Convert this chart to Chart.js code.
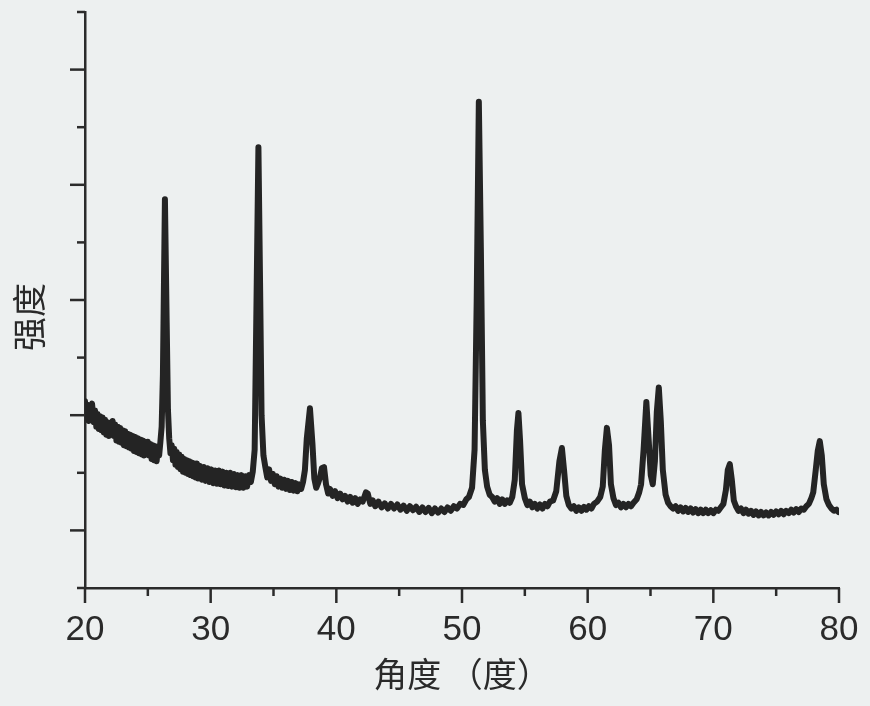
<!DOCTYPE html>
<html>
<head>
<meta charset="utf-8">
<script src="https://cdn.jsdelivr.net/npm/chart.js@4"></script>
<style>
  html, body { margin: 0; padding: 0; background: #edf0f0; }
  canvas { display: block; }
</style>
</head>
<body>
<canvas id="xrdChart" width="870" height="706"></canvas>
<script>
/* XRD pattern — angle (2θ) vs intensity */

/* 2θ positions (degrees) */
var angles = [
  20.0, 20.1, 20.2, 20.3, 20.45, 20.56, 20.7, 20.8, 20.9, 21.0,
  21.1, 21.2, 21.3, 21.4, 21.5, 21.6, 21.7, 21.8, 21.9, 22.0,
  22.1, 22.2, 22.3, 22.4, 22.5, 22.6, 22.7, 22.8, 22.9, 23.0,
  23.1, 23.2, 23.3, 23.4, 23.5, 23.6, 23.7, 23.8, 23.9, 24.0,
  24.1, 24.2, 24.3, 24.4, 24.5, 24.6, 24.7, 24.8, 24.9, 25.0,
  25.1, 25.2, 25.3, 25.4, 25.5, 25.6, 25.7, 25.8, 25.9, 26.0,
  26.1, 26.2, 26.36, 26.5, 26.6, 26.7, 26.8, 26.9, 27.0, 27.1,
  27.2, 27.3, 27.4, 27.5, 27.6, 27.7, 27.8, 27.9, 28.0, 28.1,
  28.2, 28.3, 28.4, 28.5, 28.6, 28.7, 28.8, 28.9, 29.0, 29.15,
  29.3, 29.45, 29.6, 29.75, 29.9, 30.05, 30.2, 30.35, 30.5, 30.65,
  30.8, 30.95, 31.1, 31.25, 31.4, 31.55, 31.7, 31.85, 32.0, 32.15,
  32.3, 32.45, 32.6, 32.75, 32.9, 33.05, 33.2, 33.35, 33.5, 33.65,
  33.8, 33.93, 34.05, 34.2, 34.35, 34.5, 34.65, 34.8, 34.95, 35.1,
  35.25, 35.4, 35.55, 35.7, 35.85, 36.0, 36.15, 36.3, 36.45, 36.6,
  36.75, 36.9, 37.05, 37.2, 37.35, 37.5, 37.65, 37.9, 38.1, 38.25,
  38.4, 38.55, 38.7, 38.85, 39.02, 39.18, 39.35, 39.5, 39.7, 39.9,
  40.1, 40.3, 40.5, 40.7, 40.9, 41.1, 41.3, 41.5, 41.7, 41.9,
  42.1, 42.35, 42.5, 42.7, 42.9, 43.1, 43.35, 43.6, 43.85, 44.1,
  44.35, 44.6, 44.85, 45.1, 45.35, 45.6, 45.85, 46.1, 46.35, 46.6,
  46.85, 47.1, 47.35, 47.6, 47.85, 48.1, 48.35, 48.6, 48.85, 49.1,
  49.35, 49.6, 49.85, 50.1, 50.35, 50.55, 50.8, 51.0, 51.17, 51.34,
  51.5, 51.66, 51.82, 52.0, 52.2, 52.4, 52.6, 52.8, 53.0, 53.2,
  53.4, 53.6, 53.8, 54.0, 54.2, 54.37, 54.49, 54.62, 54.78, 55.0,
  55.2, 55.4, 55.6, 55.8, 56.0, 56.2, 56.4, 56.6, 56.8, 57.0,
  57.25, 57.5, 57.75, 57.95, 58.12, 58.3, 58.5, 58.7, 58.9, 59.1,
  59.3, 59.5, 59.7, 59.9, 60.1, 60.3, 60.5, 60.75, 61.0, 61.2,
  61.37, 61.53, 61.7, 61.85, 62.05, 62.25, 62.45, 62.65, 62.85, 63.05,
  63.25, 63.45, 63.65, 63.9, 64.1, 64.25, 64.45, 64.67, 64.86, 65.02,
  65.18, 65.35, 65.5, 65.66, 65.82, 65.98, 66.2, 66.4, 66.6, 66.8,
  67.0, 67.2, 67.4, 67.6, 67.8, 68.0, 68.2, 68.4, 68.6, 68.8,
  69.0, 69.2, 69.4, 69.6, 69.8, 70.0, 70.2, 70.4, 70.6, 70.8,
  71.0, 71.15, 71.31, 71.47, 71.63, 71.8, 72.0, 72.2, 72.4, 72.6,
  72.8, 73.0, 73.2, 73.4, 73.6, 73.8, 74.0, 74.2, 74.4, 74.6,
  74.8, 75.0, 75.2, 75.4, 75.6, 75.8, 76.0, 76.2, 76.4, 76.6,
  76.8, 77.0, 77.2, 77.4, 77.6, 77.8, 77.95, 78.15, 78.31, 78.47,
  78.63, 78.79, 79.0, 79.2, 79.4, 79.6, 79.8, 79.95
];

/* intensity, arbitrary units (axis 0..10) */
var intensity = [
  3.24, 2.96, 3.18, 2.90, 3.12, 3.20, 2.88, 3.08, 2.80, 3.02,
  2.76, 2.98, 2.74, 2.96, 2.70, 2.92, 2.66, 2.88, 2.64, 2.86,
  2.68, 2.90, 2.64, 2.84, 2.56, 2.80, 2.54, 2.78, 2.52, 2.74,
  2.48, 2.72, 2.46, 2.68, 2.44, 2.66, 2.42, 2.64, 2.38, 2.62,
  2.36, 2.60, 2.34, 2.58, 2.32, 2.56, 2.30, 2.54, 2.32, 2.54,
  2.30, 2.50, 2.24, 2.48, 2.22, 2.46, 2.20, 2.44, 2.30, 2.54,
  2.80, 3.70, 6.75, 4.60, 3.10, 2.60, 2.34, 2.48, 2.22, 2.42,
  2.14, 2.36, 2.10, 2.32, 2.06, 2.28, 2.02, 2.24, 2.00, 2.22,
  1.98, 2.20, 1.96, 2.18, 1.94, 2.16, 1.92, 2.16, 1.90, 2.12,
  1.88, 2.10, 1.86, 2.08, 1.84, 2.06, 1.82, 2.04, 1.81, 2.04,
  1.80, 2.02, 1.78, 2.00, 1.77, 2.00, 1.76, 1.98, 1.75, 1.96,
  1.74, 1.96, 1.74, 1.94, 1.76, 1.96, 1.84, 2.02, 2.40, 5.00,
  7.65, 5.30, 3.00, 2.30, 2.10, 1.92, 2.06, 1.86, 1.98, 1.80,
  1.94, 1.76, 1.90, 1.74, 1.88, 1.72, 1.86, 1.70, 1.84, 1.69,
  1.82, 1.68, 1.80, 1.72, 1.84, 2.05, 2.60, 3.12, 2.50, 1.90,
  1.74, 1.82, 1.92, 2.08, 2.10, 1.80, 1.64, 1.72, 1.60, 1.68,
  1.56, 1.64, 1.54, 1.60, 1.50, 1.58, 1.48, 1.56, 1.46, 1.54,
  1.50, 1.66, 1.64, 1.46, 1.52, 1.42, 1.50, 1.40, 1.47, 1.38,
  1.46, 1.38, 1.45, 1.36, 1.43, 1.34, 1.42, 1.35, 1.41, 1.32,
  1.40, 1.32, 1.39, 1.30, 1.38, 1.31, 1.38, 1.32, 1.40, 1.34,
  1.42, 1.38, 1.46, 1.44, 1.54, 1.58, 1.74, 2.40, 5.00, 8.44,
  5.90, 2.90, 2.05, 1.76, 1.62, 1.58, 1.50, 1.56, 1.46, 1.54,
  1.46, 1.52, 1.48, 1.58, 1.88, 2.74, 3.04, 2.56, 1.80, 1.56,
  1.44, 1.50, 1.40, 1.46, 1.38, 1.45, 1.38, 1.46, 1.42, 1.50,
  1.52, 1.68, 2.20, 2.43, 2.05, 1.60, 1.44, 1.38, 1.42, 1.34,
  1.40, 1.34, 1.41, 1.36, 1.42, 1.38, 1.46, 1.50, 1.58, 1.76,
  2.40, 2.78, 2.48, 1.80, 1.56, 1.44, 1.48, 1.40, 1.46, 1.40,
  1.46, 1.42, 1.48, 1.54, 1.66, 1.80, 2.40, 3.23, 2.55, 1.96,
  1.80, 2.20, 3.05, 3.48, 2.90, 2.05, 1.62, 1.48, 1.42, 1.38,
  1.42, 1.34, 1.40, 1.33, 1.39, 1.32, 1.38, 1.31, 1.37, 1.30,
  1.36, 1.30, 1.36, 1.30, 1.35, 1.30, 1.36, 1.34, 1.40, 1.46,
  1.70, 2.05, 2.15, 1.88, 1.52, 1.42, 1.34, 1.38, 1.30, 1.36,
  1.29, 1.34, 1.27, 1.33, 1.26, 1.32, 1.26, 1.31, 1.26, 1.32,
  1.27, 1.33, 1.28, 1.34, 1.28, 1.34, 1.30, 1.36, 1.31, 1.37,
  1.32, 1.38, 1.36, 1.42, 1.46, 1.56, 1.66, 2.05, 2.38, 2.55,
  2.30, 1.80, 1.54, 1.44, 1.38, 1.34, 1.36, 1.32
];

/* axis tick positions */
var xTicks = [20, 25, 30, 35, 40, 45, 50, 55, 60, 65, 70, 75, 80];
var yTicks = [0, 1, 2, 3, 4, 5, 6, 7, 8, 9, 10];

var INK = "#242424";
var AXIS = "#2b2b2b";
var LATIN = "'Liberation Sans', Arial, sans-serif";
var CJK = "'Noto Sans CJK SC', sans-serif";

/* outward tick marks: long on major, short on minor */
var tickMarks = {
  id: "tickMarks",
  afterDraw: function (chart) {
    var c = chart.ctx;
    var sx = chart.scales.x, sy = chart.scales.y;
    c.save();
    c.strokeStyle = AXIS;
    c.lineWidth = 2.5;
    xTicks.forEach(function (v) {
      var p = sx.getPixelForValue(v);
      var len = v % 10 === 0 ? 15 : 8;
      c.beginPath();
      c.moveTo(p, sx.top);
      c.lineTo(p, sx.top + len);
      c.stroke();
    });
    yTicks.forEach(function (v) {
      var p = sy.getPixelForValue(v);
      var len = v % 2 === 1 ? 15 : 8;
      c.beginPath();
      c.moveTo(sy.right, p);
      c.lineTo(sy.right - len, p);
      c.stroke();
    });
    c.restore();
  }
};

var points = angles.map(function (a, i) { return { x: a, y: intensity[i] }; });

new Chart(document.getElementById("xrdChart"), {
  type: "scatter",
  data: {
    datasets: [{
      data: points,
      showLine: true,
      borderColor: INK,
      borderWidth: 6,
      borderJoinStyle: "round",
      borderCapStyle: "round",
      pointRadius: 0,
      tension: 0
    }]
  },
  options: {
    responsive: false,
    animation: false,
    layout: { padding: { top: 12, right: 31, left: 0, bottom: 0 } },
    plugins: { legend: { display: false }, tooltip: { enabled: false } },
    scales: {
      x: {
        type: "linear",
        min: 20,
        max: 80,
        grid: { display: false },
        border: { display: true, color: AXIS, width: 2.5 },
        ticks: {
          stepSize: 10,
          autoSkip: false,
          maxRotation: 0,
          padding: 13,
          color: "#2a2a2a",
          font: { family: LATIN, size: 35 }
        },
        title: {
          display: true,
          text: "角度 （度）",
          color: "#2a2a2a",
          font: { family: CJK, size: 34 },
          padding: { top: 0, bottom: 12 }
        },
        afterFit: function (s) {
          s.height = 118;
          s.paddingLeft = 0;
          s.paddingRight = 0;
        }
      },
      y: {
        min: 0,
        max: 10,
        grid: { display: false },
        border: { display: true, color: AXIS, width: 2.5 },
        ticks: { display: false, stepSize: 1 },
        title: {
          display: true,
          text: "强度\u3000",
          color: "#2a2a2a",
          font: { family: CJK, size: 34 },
          padding: { top: 9, bottom: 0 }
        },
        afterFit: function (s) {
          s.width = 85;
          s.paddingTop = 0;
          s.paddingBottom = 0;
        }
      }
    }
  },
  plugins: [tickMarks]
});
</script>
</body>
</html>
